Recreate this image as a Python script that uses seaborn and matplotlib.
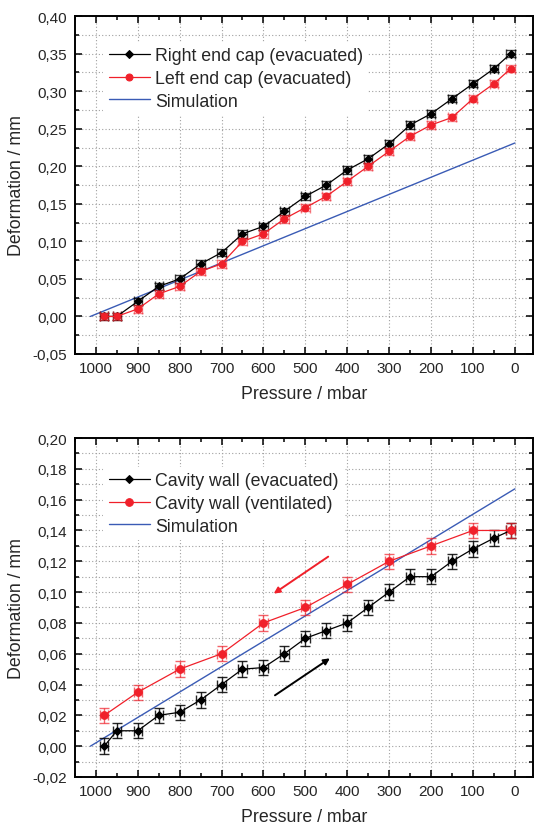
import matplotlib

matplotlib.use("Agg")
import matplotlib.pyplot as plt
import pandas as pd
import seaborn as sns
from matplotlib.ticker import FuncFormatter, MultipleLocator

# top panel: end caps
cap_pressure = [980, 950, 900, 850, 800, 750, 700, 650, 600, 550, 500,
                450, 400, 350, 300, 250, 200, 150, 100, 50, 10]
right_cap = [0.0, 0.0, 0.02, 0.04, 0.05, 0.07, 0.085, 0.11, 0.12, 0.14, 0.16,
             0.175, 0.195, 0.21, 0.23, 0.255, 0.27, 0.29, 0.31, 0.33, 0.35]
left_cap = [0.0, 0.0, 0.01, 0.03, 0.04, 0.06, 0.07, 0.10, 0.11, 0.13, 0.145,
            0.16, 0.18, 0.20, 0.22, 0.24, 0.255, 0.265, 0.29, 0.31, 0.33]
sim_cap_pressure = [1013, 0]
sim_cap = [0.0, 0.231]

# bottom panel: cavity wall
wall_evac_pressure = [980, 950, 900, 850, 800, 750, 700, 650, 600, 550, 500,
                      450, 400, 350, 300, 250, 200, 150, 100, 50, 10]
wall_evac = [0.0, 0.01, 0.01, 0.02, 0.022, 0.03, 0.04, 0.05, 0.051, 0.06, 0.07,
             0.075, 0.08, 0.09, 0.10, 0.11, 0.11, 0.12, 0.128, 0.135, 0.14]
wall_vent_pressure = [980, 900, 800, 700, 600, 500, 400, 300, 200, 100, 10]
wall_vent = [0.02, 0.035, 0.05, 0.06, 0.08, 0.09, 0.105, 0.12, 0.13, 0.14, 0.14]
sim_wall_pressure = [1013, 0]
sim_wall = [0.0, 0.167]

P_ERR = 10
D_ERR = 0.005

BLACK = "#000000"
RED = "#f0202a"
BLUE = "#3a5bb5"


def comma(v, _pos):
    return f"{v:.2f}".replace(".", ",")


def style_axes(ax, ylim, ymajor, yminor):
    ax.set_xlim(1050, -43)
    ax.set_ylim(*ylim)
    ax.xaxis.set_major_locator(MultipleLocator(100))
    ax.xaxis.set_minor_locator(MultipleLocator(50))
    ax.yaxis.set_major_locator(MultipleLocator(ymajor))
    ax.yaxis.set_minor_locator(MultipleLocator(yminor))
    ax.xaxis.set_major_formatter(FuncFormatter(lambda v, p: f"{v:.0f}"))
    ax.yaxis.set_major_formatter(FuncFormatter(comma))
    ax.tick_params(which="both", direction="in", top=True, right=True,
                   labelsize=11, width=1.1, color="black")
    ax.tick_params(axis="y", pad=6)
    ax.tick_params(axis="x", pad=5)
    ax.tick_params(which="major", length=5)
    ax.tick_params(which="minor", length=3)
    ax.grid(which="major", axis="x", linestyle=(0, (1, 2)), color="#a0a0a0", lw=0.8)
    ax.grid(which="both", axis="y", linestyle=(0, (1, 2)), color="#a0a0a0", lw=0.8)
    ax.set_axisbelow(True)
    for s in ax.spines.values():
        s.set_linewidth(1.4)
        s.set_color("black")
    ax.set_xlabel("Pressure / mbar", fontsize=12.8, labelpad=7)
    ax.set_ylabel("Deformation / mm", fontsize=12.8, labelpad=5)


def add_series(ax, x, y, color, marker, label, ms, capsize, ecolor_alpha):
    df = pd.DataFrame({"p": x, "d": y})
    ax.errorbar(df["p"], df["d"], xerr=P_ERR, yerr=D_ERR, fmt="none",
                ecolor=color, alpha=ecolor_alpha, capsize=capsize, elinewidth=1.0,
                capthick=1.0, zorder=3)
    sns.lineplot(data=df, x="p", y="d", color=color, marker=marker, markersize=ms,
                 markeredgecolor=color, linewidth=0.9, sort=False, label=label,
                 ax=ax, zorder=4)


def finish_legend(ax, top):
    leg = ax.legend(loc="upper left", bbox_to_anchor=(0.043, top), frameon=True,
                    fontsize=12.8, handlelength=2.3, handletextpad=0.3,
                    borderpad=0.3, labelspacing=0.33)
    leg.get_frame().set_facecolor("white")
    leg.get_frame().set_edgecolor("none")
    leg.get_frame().set_alpha(1.0)


sns.set_theme(style="ticks")
plt.rcParams["font.family"] = ["Liberation Sans", "DejaVu Sans"]

fig = plt.figure(figsize=(5.35, 8.28), dpi=100)
ax1 = fig.add_axes([0.140, 0.5713, 0.856, 0.408])
ax2 = fig.add_axes([0.140, 0.0604, 0.856, 0.4094])

# top
add_series(ax1, cap_pressure, right_cap, BLACK, "D", "Right end cap (evacuated)", 4.5, 3.5, 0.75)
add_series(ax1, cap_pressure, left_cap, RED, "o", "Left end cap (evacuated)", 5, 3.5, 0.55)
sns.lineplot(x=sim_cap_pressure, y=sim_cap, color=BLUE, linewidth=1.0, sort=False,
             label="Simulation", ax=ax1, zorder=2)
style_axes(ax1, (-0.05, 0.40), 0.05, 0.025)
finish_legend(ax1, 0.951)

# bottom
add_series(ax2, wall_evac_pressure, wall_evac, BLACK, "D", "Cavity wall (evacuated)", 4.5, 3.5, 0.85)
add_series(ax2, wall_vent_pressure, wall_vent, RED, "o", "Cavity wall (ventilated)", 5.5, 3.5, 0.7)
sns.lineplot(x=sim_wall_pressure, y=sim_wall, color=BLUE, linewidth=1.0, sort=False,
             label="Simulation", ax=ax2, zorder=2)
style_axes(ax2, (-0.02, 0.20), 0.02, 0.01)
finish_legend(ax2, 0.942)

ax2.annotate("", xy=(581, 0.098), xytext=(440, 0.124),
             arrowprops=dict(arrowstyle="-|>", color=RED, lw=1.4, mutation_scale=9))
ax2.annotate("", xy=(436, 0.058), xytext=(578, 0.032),
             arrowprops=dict(arrowstyle="-|>", color=BLACK, lw=1.4, mutation_scale=9))

fig.savefig("out.png", dpi=100)
